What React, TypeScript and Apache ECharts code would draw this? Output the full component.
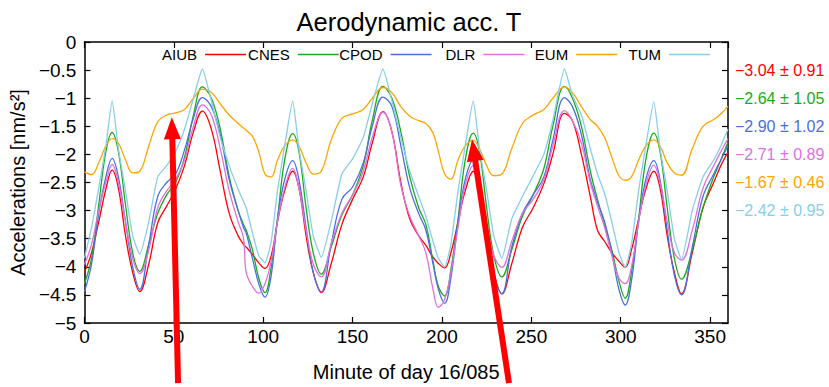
import React, { useEffect, useRef } from 'react';
import * as echarts from 'echarts';

const minutes = [0, 4, 8, 12, 15.5, 19, 23, 27, 31, 36, 41, 46, 51, 56, 61, 66, 71, 76, 81, 86, 89, 90.5, 94, 97.5, 101,
  104.5, 108, 112, 116.5, 120, 124, 128, 132.5, 138, 144, 150, 156, 161, 167, 172, 177, 182, 187, 191, 195, 198, 201.5,
  205, 209, 213, 217.5, 221, 225, 229, 233.5, 239, 245, 251, 257, 262, 268.5, 273, 278, 283, 287, 291, 295, 299, 302.5,
  306, 310, 314, 318.5, 322, 326, 330, 334, 340, 346, 352, 356, 360];

const aiub = [-4.10, -3.75, -3.2, -2.62, -2.28, -2.6, -3.45, -4.1, -4.44, -3.95, -3.22, -2.92, -2.62, -2.2, -1.6, -1.23, -1.55, -2.3, -3.05, -3.45, -3.6, -3.65, -3.78, -3.93, -4.03,
  -3.8, -3.2, -2.65, -2.30, -2.6, -3.45, -4.1, -4.46, -3.95, -3.25, -2.8, -2.4, -1.8, -1.24, -1.6, -2.5, -3.15, -3.45, -3.62, -3.83, -3.94, -4.02,
  -3.75, -3.2, -2.65, -2.30, -2.6, -3.45, -4.1, -4.48, -3.95, -3.3, -2.95, -2.52, -2.0, -1.27, -1.4, -2.0, -2.75, -3.35, -3.55, -3.75, -3.9, -4.01,
  -3.7, -3.15, -2.62, -2.30, -2.6, -3.45, -4.1, -4.48, -3.75, -2.95, -2.5, -2.2, -1.96];
const cnes = [-4.3, -3.85, -2.9, -1.95, -1.61, -1.95, -2.9, -3.75, -4.08, -3.6, -3.05, -2.72, -2.5, -2.05, -1.3, -0.80, -1.0, -1.55, -2.4, -3.0, -3.25, -3.35, -3.7, -4.2, -4.46,
  -4.0, -3.15, -2.1, -1.63, -1.95, -2.95, -3.75, -4.13, -3.65, -3.08, -2.72, -2.2, -1.4, -0.79, -1.0, -1.6, -2.4, -2.95, -3.25, -3.9, -4.35, -4.52,
  -4.05, -3.15, -2.1, -1.62, -1.95, -2.95, -3.8, -4.18, -3.7, -3.1, -2.72, -2.25, -1.5, -0.79, -1.0, -1.5, -2.3, -2.8, -3.25, -3.7, -4.25, -4.56,
  -4.1, -3.15, -2.1, -1.62, -1.95, -2.95, -3.85, -4.22, -3.7, -2.95, -2.4, -2.1, -1.78];
const cpod = [-4.45, -3.95, -3.05, -2.4, -2.07, -2.4, -3.2, -4.0, -4.40, -3.6, -2.75, -2.5, -2.35, -1.92, -1.35, -0.99, -1.15, -1.65, -2.45, -3.0, -3.3, -3.4, -3.85, -4.3, -4.54,
  -4.15, -3.15, -2.45, -2.11, -2.45, -3.3, -4.1, -4.45, -3.6, -2.8, -2.58, -2.15, -1.5, -0.98, -1.15, -1.85, -2.6, -3.05, -3.35, -3.95, -4.4, -4.65,
  -4.2, -3.2, -2.45, -2.10, -2.45, -3.35, -4.15, -4.48, -3.65, -3.05, -2.72, -2.4, -1.75, -0.99, -1.15, -1.65, -2.45, -2.85, -3.2, -3.75, -4.4, -4.68,
  -4.25, -3.2, -2.45, -2.11, -2.45, -3.35, -4.15, -4.50, -3.65, -2.75, -2.35, -2.1, -1.84];
const dlr = [-3.96, -3.6, -3.0, -2.5, -2.18, -2.5, -3.2, -3.85, -4.12, -3.7, -2.95, -2.65, -2.45, -2.1, -1.5, -1.12, -1.3, -1.9, -2.65, -3.2, -3.49, -4.1, -4.35, -4.47, -4.3,
  -3.9, -3.2, -2.6, -2.25, -2.6, -3.35, -3.95, -4.18, -3.6, -3.05, -2.72, -2.3, -1.7, -1.25, -1.6, -2.55, -3.1, -3.45, -3.75, -4.4, -4.72, -4.58,
  -4.1, -3.3, -2.55, -2.2, -2.55, -3.25, -3.8, -4.01, -3.55, -3.05, -2.8, -2.45, -1.85, -1.22, -1.4, -1.8, -2.5, -2.92, -3.3, -3.8, -4.2, -4.30,
  -4.0, -3.2, -2.55, -2.19, -2.5, -3.2, -3.75, -3.88, -3.35, -2.6, -2.2, -1.95, -1.72];
const eum = [-2.31, -2.36, -2.15, -1.85, -1.72, -1.8, -2.1, -2.33, -2.3, -1.85, -1.42, -1.3, -1.26, -1.2, -1.0, -0.84, -0.9, -1.1, -1.3, -1.45, -1.53, -1.57, -1.68, -1.95, -2.35,
  -2.4, -2.1, -1.85, -1.74, -1.85, -2.15, -2.35, -2.3, -1.75, -1.36, -1.28, -1.2, -1.0, -0.81, -0.9, -1.15, -1.32, -1.4, -1.45, -1.62, -1.95, -2.35,
  -2.44, -2.1, -1.85, -1.75, -1.9, -2.2, -2.38, -2.35, -1.9, -1.45, -1.3, -1.2, -1.0, -0.8, -0.9, -1.15, -1.38, -1.5, -1.7, -2.05, -2.38, -2.46,
  -2.4, -2.1, -1.85, -1.74, -1.85, -2.15, -2.33, -2.37, -1.9, -1.5, -1.38, -1.28, -1.14];
const tum = [-3.85, -3.3, -2.6, -1.85, -1.05, -1.9, -2.65, -3.45, -3.78, -3.2, -2.4, -2.2, -1.95, -1.55, -1.0, -0.48, -1.05, -1.7, -2.2, -2.62, -2.84, -2.95, -3.4, -3.8, -3.93,
  -3.55, -2.65, -1.85, -1.05, -1.9, -2.65, -3.45, -3.83, -3.2, -2.35, -2.08, -1.7, -1.1, -0.48, -1.05, -1.7, -2.3, -2.75, -3.1, -3.55, -3.85, -4.0,
  -3.6, -2.65, -1.85, -1.05, -1.9, -2.65, -3.45, -3.85, -3.15, -2.75, -2.38, -2.0, -1.4, -0.48, -0.95, -1.3, -1.9, -2.35, -2.7, -3.2, -3.75, -4.01,
  -3.6, -2.65, -1.85, -1.06, -1.9, -2.65, -3.5, -3.87, -3.0, -2.4, -2.1, -1.85, -1.55];

const seriesNames = ['AIUB', 'CNES', 'CPOD', 'DLR', 'EUM', 'TUM'];
const seriesValues = [aiub, cnes, cpod, dlr, eum, tum];
const colors = ['#ff0000', '#1aab1a', '#4a70e0', '#e070e0', '#ffa500', '#87ceeb'];
const means = [-3.04, -2.64, -2.90, -2.71, -1.67, -2.42];
const stds = [0.91, 1.05, 1.02, 0.89, 0.46, 0.95];
const statTicks = [-0.5, -1, -1.5, -2, -2.5, -3];

// arrow annotations in data coordinates (tip, tail)
const arrows = [
  { tip: [48.9, -1.34], tail: [52.4, -6.07] },
  { tip: [216.8, -1.73], tail: [237.5, -6.07] },
];

const FONT = 'Liberation Sans, Arial, sans-serif';
const W = 829;
const H = 387;

const minus = (s: string) => s.replace('-', '\u2212');

export default function App() {
  const ref = useRef<HTMLDivElement>(null);
  useEffect(() => {
    if (!ref.current) return;
    const chart = echarts.init(ref.current, null, { renderer: 'svg' });
    const rich: any = {};
    colors.forEach((c, i) => {
      rich['s' + i] = { color: c, fontSize: 16, fontFamily: FONT };
    });
    const axisLine = { show: true, onZero: false, lineStyle: { color: '#000', width: 1.5 } };
    const axisTick = { show: true, inside: true, length: 6, lineStyle: { color: '#000', width: 1.2 } };
    const legends = seriesNames.map((n, i) => ({
      data: [n],
      right: W - (246 + i * 92.8),
      top: 47,
      align: 'right',
      icon: 'rect',
      itemWidth: 41,
      itemHeight: 1.5,
      padding: 0,
      selectedMode: false,
      textStyle: { fontSize: 15, color: '#000', fontFamily: FONT, padding: [0, 3, 0, 0] },
    }));
    chart.setOption({
      animation: false,
      backgroundColor: '#fff',
      textStyle: { fontFamily: FONT },
      title: {
        text: 'Aerodynamic acc. T',
        left: 404,
        top: 4,
        textAlign: 'center',
        textStyle: { fontSize: 25.5, fontWeight: 'normal', color: '#000', fontFamily: FONT },
      },
      legend: legends,
      grid: { left: 80, right: W - 728, top: 42, bottom: H - 326, containLabel: false },
      xAxis: [
        {
          type: 'value', min: 0, max: 360, interval: 50, position: 'bottom',
          axisLine, axisTick,
          splitLine: { show: false },
          axisLabel: { fontSize: 19, color: '#000', margin: 4, showMaxLabel: false, fontFamily: FONT },
          name: 'Minute of day 16/085', nameLocation: 'middle', nameGap: 39,
          nameTextStyle: { fontSize: 20, color: '#000', fontFamily: FONT },
        },
        {
          type: 'value', min: 0, max: 360, interval: 50, position: 'top',
          axisLine, axisTick, splitLine: { show: false }, axisLabel: { show: false },
        },
      ],
      yAxis: [
        {
          type: 'value', min: -5, max: 0, interval: 0.5, position: 'left',
          axisLine, axisTick, splitLine: { show: false },
          axisLabel: {
            fontSize: 19, color: '#000', margin: 8, fontFamily: FONT,
            formatter: (v: number) => (v === 0 ? '0' : '\u2212' + Math.abs(v)),
          },
          name: 'Accelerations [nm/s\u00b2]', nameLocation: 'middle', nameGap: 50,
          nameTextStyle: { fontSize: 20, color: '#000', fontFamily: FONT },
        },
        {
          type: 'value', min: -5, max: 0, interval: 0.5, position: 'right',
          axisLine, axisTick, splitLine: { show: false },
          axisLabel: {
            margin: 7,
            formatter: (v: number) => {
              const i = statTicks.findIndex((s) => Math.abs(s - v) < 1e-6);
              if (i < 0) return '';
              return `{s${i}|${minus(means[i].toFixed(2))} \u00b1 ${stds[i].toFixed(2)}}`;
            },
            rich,
          },
        },
      ],
      series: seriesNames.map((n, i) => ({
        name: n,
        type: 'line',
        xAxisIndex: 0,
        yAxisIndex: 0,
        data: minutes.map((t, k) => [t, seriesValues[i][k]]),
        showSymbol: false,
        symbol: 'none',
        smooth: i === 5 ? 0.15 : 0.4,
        color: colors[i],
        lineStyle: { color: colors[i], width: 1.3 },
      })),
    });

    const graphics: any[] = [];
    arrows.forEach((a) => {
      const tip = chart.convertToPixel({ xAxisIndex: 0, yAxisIndex: 0 }, a.tip) as number[];
      const tail = chart.convertToPixel({ xAxisIndex: 0, yAxisIndex: 0 }, a.tail) as number[];
      const dx = tip[0] - tail[0];
      const dy = tip[1] - tail[1];
      const len = Math.sqrt(dx * dx + dy * dy);
      const ux = dx / len;
      const uy = dy / len;
      const headLen = 22;
      const headHalf = 8.5;
      const bx = tip[0] - ux * headLen;
      const by = tip[1] - uy * headLen;
      const nx = -uy;
      const ny = ux;
      graphics.push({
        type: 'line', z: 100,
        shape: { x1: tail[0], y1: tail[1], x2: bx + ux * 2, y2: by + uy * 2 },
        style: { stroke: '#ff0000', lineWidth: 6 },
      });
      graphics.push({
        type: 'polygon', z: 100,
        shape: { points: [[tip[0], tip[1]], [bx + nx * headHalf, by + ny * headHalf], [bx - nx * headHalf, by - ny * headHalf]] },
        style: { fill: '#ff0000' },
      });
    });
    chart.setOption({ graphic: graphics });

    return () => chart.dispose();
  }, []);
  return <div ref={ref} style={{ position: 'fixed', left: 0, top: 0, width: W, height: H }} />;
}
